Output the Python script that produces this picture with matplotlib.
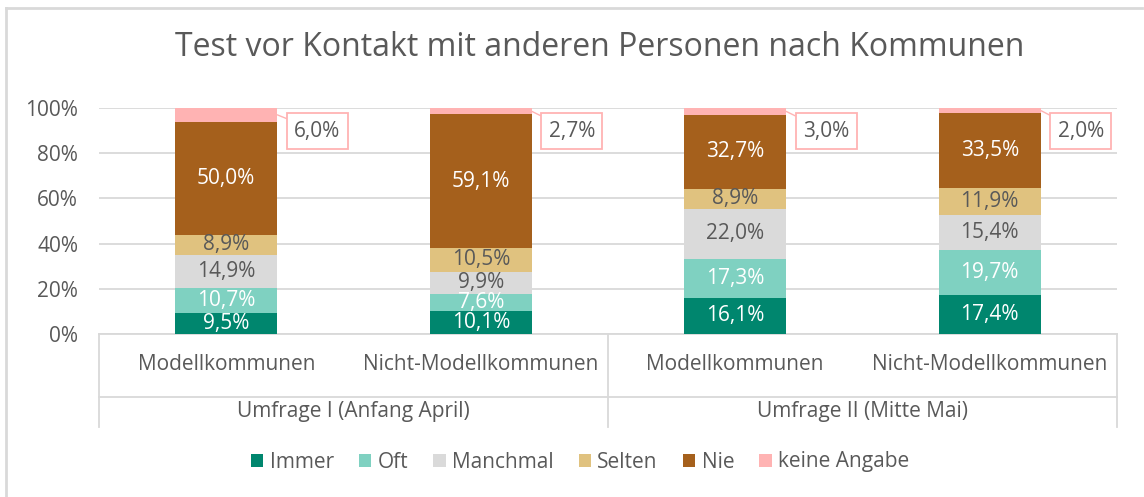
import matplotlib
matplotlib.use("Agg")
import matplotlib.pyplot as plt
from matplotlib.patches import Patch
from matplotlib.lines import Line2D

plt.rcParams['font.family'] = ['Open Sans', 'DejaVu Sans']

categories = ["Modellkommunen", "Nicht-Modellkommunen", "Modellkommunen", "Nicht-Modellkommunen"]
groups = ["Umfrage I (Anfang April)", "Umfrage II (Mitte Mai)"]
series_names = ["Immer", "Oft", "Manchmal", "Selten", "Nie", "keine Angabe"]
immer = [9.5, 10.1, 16.1, 17.4]
oft = [10.7, 7.6, 17.3, 19.7]
manchmal = [14.9, 9.9, 22.0, 15.4]
selten = [8.9, 10.5, 8.9, 11.9]
nie = [50.0, 59.1, 32.7, 33.5]
keine = [6.0, 2.7, 3.0, 2.0]
yticks = [0, 20, 40, 60, 80, 100]

colors = ["#00866E", "#7FD1C1", "#DADADA", "#E0C27F", "#A5601C", "#FFB3B3"]
label_colors = ["white", "white", "#595959", "#595959", "white", None]
TXT = "#595959"
GRID = "#D9D9D9"
FS = 15

W, H = 1144, 497
fig = plt.figure(figsize=(W / 100, H / 100), dpi=100)

x_left, x_right, y_top, y_bot = 99, 1117, 108, 334
ax = fig.add_axes([x_left / W, 1 - y_bot / H, (x_right - x_left) / W, (y_bot - y_top) / H])

xs = [i + 0.5 for i in range(len(categories))]
bw = 0.4
series = [immer, oft, manchmal, selten, nie, keine]
bottom = [0.0] * len(xs)
for vals, col, lc in zip(series, colors, label_colors):
    ax.bar(xs, vals, bw, bottom=bottom, color=col, zorder=3, clip_on=False)
    for j, (x, v, b) in enumerate(zip(xs, vals, bottom)):
        if lc is not None:
            ax.text(x, b + v / 2, f"{v:.1f}%".replace(".", ","), ha="center", va="center",
                    color=lc, fontsize=FS, zorder=4)
    bottom = [b + v for b, v in zip(bottom, vals)]

# callouts for keine Angabe
for x, v, b in zip(xs, keine, [bb - k for bb, k in zip(bottom, keine)]):
    ax.annotate(f"{v:.1f}%".replace(".", ","),
                xy=(x + bw / 2, b + v / 2), xytext=(x + bw / 2 + 0.158, 89.8),
                ha="center", va="center", fontsize=FS, color=TXT,
                bbox=dict(boxstyle="square,pad=0.35", fc="white", ec="#FFB3B3", lw=1.3),
                arrowprops=dict(arrowstyle="-", color="#FFB3B3", lw=1.0, shrinkA=0, shrinkB=0),
                zorder=5, annotation_clip=False)

ax.set_xlim(0, len(categories))
ax.set_ylim(0, 100)
ax.set_yticks(yticks)
ax.set_yticklabels([f"{t}%" for t in yticks], fontsize=FS, color=TXT)
ax.tick_params(axis="y", length=0, pad=15)
ax.set_xticks([])
for s in ax.spines.values():
    s.set_visible(False)
ax.yaxis.grid(True, color=GRID, lw=1.3, zorder=0)

# multi-level category axis
px = 100 / (y_bot - y_top)  # data units per pixel
def yp(pix):
    return -(pix - y_bot) * px

lk = dict(color=GRID, lw=1.3, clip_on=False, zorder=2)
ax.add_line(Line2D([0, 4], [0, 0], **lk))
ax.add_line(Line2D([0, 4], [yp(397), yp(397)], **lk))
for xv in [0, 2, 4]:
    ax.add_line(Line2D([xv, xv], [0, yp(427)], **lk))
for x, c in zip(xs, categories):
    ax.text(x, yp(365), c, ha="center", va="center", fontsize=FS, color=TXT)
for i, g in enumerate(groups):
    ax.text(2 * i + 1, yp(411), g, ha="center", va="center", fontsize=FS, color=TXT)

fig.text(600 / W, 1 - 47 / H, "Test vor Kontakt mit anderen Personen nach Kommunen",
         ha="center", va="center", fontsize=23, color=TXT)

handles = [Patch(facecolor=c, edgecolor="none") for c in colors]
fig.legend(handles, series_names, loc="center", bbox_to_anchor=(580 / W, 1 - 462 / H),
           ncol=6, frameon=False, fontsize=FS, handlelength=0.6, handleheight=0.6,
           handletextpad=0.3, columnspacing=1.2, labelcolor=TXT)

# outer chart border (partially visible)
fig.add_artist(Line2D([6 / W, 6 / W], [0, 1 - 8 / H], transform=fig.transFigure, color=GRID, lw=2))
fig.add_artist(Line2D([6 / W, 1142 / W], [1 - 8 / H, 1 - 8 / H], transform=fig.transFigure, color=GRID, lw=2))

fig.savefig("out.png", dpi=100)
